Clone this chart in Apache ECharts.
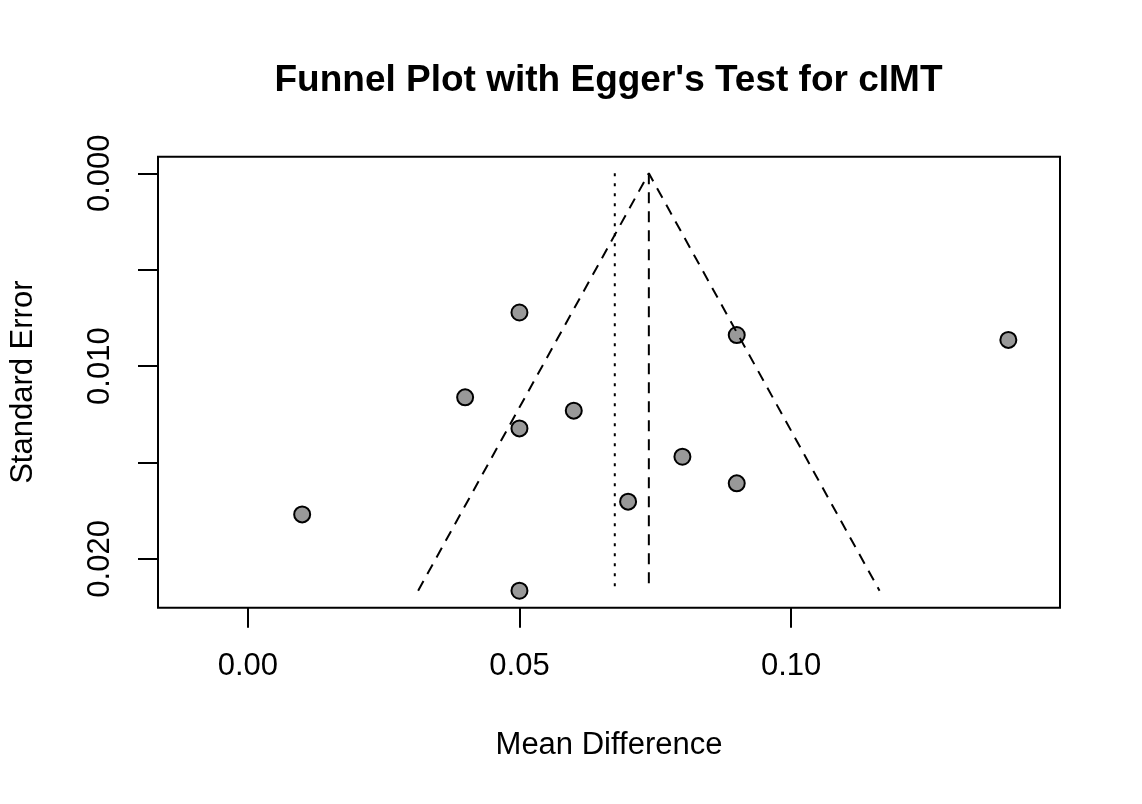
<!DOCTYPE html>
<html>
<head>
<meta charset="utf-8">
<title>Funnel Plot</title>
<script src="https://cdn.jsdelivr.net/npm/echarts@6/dist/echarts.min.js"></script>
<style>
    html, body {margin: 0; padding: 0; background: #fff;}
    #funnelChart {width: 1142px; height: 804px;}
</style>
</head>
<body>
<div id="funnelChart"></div>
<script>
/**
 * 数据
 */
var meanDiff = [0.05, 0.09, 0.14, 0.04, 0.06, 0.05, 0.08, 0.09, 0.07, 0.01, 0.05];// 效应量
var stdErr = [0.00722, 0.00839, 0.00864, 0.01162, 0.01231, 0.01323, 0.01470, 0.01608, 0.01703, 0.01769, 0.02165];// 标准误
var xTicks = [0.00, 0.05, 0.10];
var yTicks = [0.000, 0.005, 0.010, 0.015, 0.020];
var yLabels = [0.000, 0.010, 0.020];
var estimate = 0.07382;// 合并效应（虚线）
var adjusted = 0.06755;// 点线
var funnelX = [0.03135, 0.07382, 0.11629];// 漏斗线横坐标
var funnelY = [0.02165, 0, 0.02165];// 漏斗线纵坐标
var refY = [0, 0.02165];

var fontName = "'Liberation Sans', Arial, Helvetica, sans-serif";

renderFunnel();

/**
 * 渲染漏斗图
 */
function renderFunnel() {
    var chart = echarts.init(document.getElementById('funnelChart'));// 初始化
    var points = [];
    for (var i = 0; i < meanDiff.length; i++) {
        points.push([meanDiff[i], stdErr[i]]);
    }
    var funnelLine = [];
    for (var j = 0; j < funnelX.length; j++) {
        funnelLine.push([funnelX[j], funnelY[j]]);
    }
    var estLine = [[estimate, refY[0]], [estimate, refY[1]]];
    var adjLine = [[adjusted, refY[0]], [adjusted, refY[1]]];

    var option = {
        animation: false,
        backgroundColor: '#fff',
        textStyle: {fontFamily: fontName},
        title: {
            text: "Funnel Plot with Egger's Test for cIMT",
            left: 608.5,
            top: 62,
            textAlign: 'center',
            padding: 0,
            textStyle: {
                fontSize: 37,
                fontWeight: 'bold',
                color: '#000',
                fontFamily: fontName
            }
        },
        grid: {
            left: 156.7,
            top: 156.7,
            right: 82,
            bottom: 196.3,
            show: true,
            borderColor: '#000',
            borderWidth: 2,
            backgroundColor: 'transparent'
        },
        xAxis: {
            type: 'value',
            min: -0.01654,
            max: 0.14951,
            name: 'Mean Difference',
            nameLocation: 'middle',
            nameGap: 122,
            nameTextStyle: {fontSize: 31, color: '#000', fontFamily: fontName},
            axisLine: {show: false, onZero: false},
            splitLine: {show: false},
            axisTick: {
                show: true,
                length: 20,
                customValues: xTicks,
                lineStyle: {color: '#000', width: 2}
            },
            axisLabel: {
                customValues: xTicks,
                margin: 43,
                fontSize: 31,
                color: '#000',
                fontFamily: fontName,
                formatter: function (v) {
                    return v.toFixed(2);
                }
            }
        },
        yAxis: {
            type: 'value',
            inverse: true,
            min: -0.00086,
            max: 0.02253,
            name: 'Standard Error',
            nameLocation: 'middle',
            nameGap: 119,
            nameTextStyle: {fontSize: 31, color: '#000', fontFamily: fontName},
            axisLine: {show: false, onZero: false},
            splitLine: {show: false},
            axisTick: {
                show: true,
                length: 20,
                customValues: yTicks,
                lineStyle: {color: '#000', width: 2}
            },
            axisLabel: {
                customValues: yLabels,
                rotate: 90,
                margin: 42,
                fontSize: 31,
                color: '#000',
                fontFamily: fontName,
                formatter: function (v) {
                    return v.toFixed(3);
                }
            }
        },
        series: [
            {
                name: 'studies',
                type: 'scatter',
                data: points,
                symbol: 'circle',
                symbolSize: 16,
                z: 2,
                itemStyle: {
                    color: '#999999',
                    borderColor: '#000',
                    borderWidth: 2,
                    opacity: 1
                }
            },
            {
                name: 'funnel',
                type: 'line',
                data: funnelLine,
                symbol: 'none',
                z: 3,
                lineStyle: {color: '#000', width: 2, type: [11, 8]}
            },
            {
                name: 'estimate',
                type: 'line',
                data: estLine,
                symbol: 'none',
                z: 3,
                lineStyle: {color: '#000', width: 2, type: [11, 8]}
            },
            {
                name: 'adjusted',
                type: 'line',
                data: adjLine,
                symbol: 'none',
                z: 3,
                lineStyle: {color: '#000', width: 2, type: [3, 7]}
            }
        ]
    };
    chart.setOption(option);
}
</script>
</body>
</html>
